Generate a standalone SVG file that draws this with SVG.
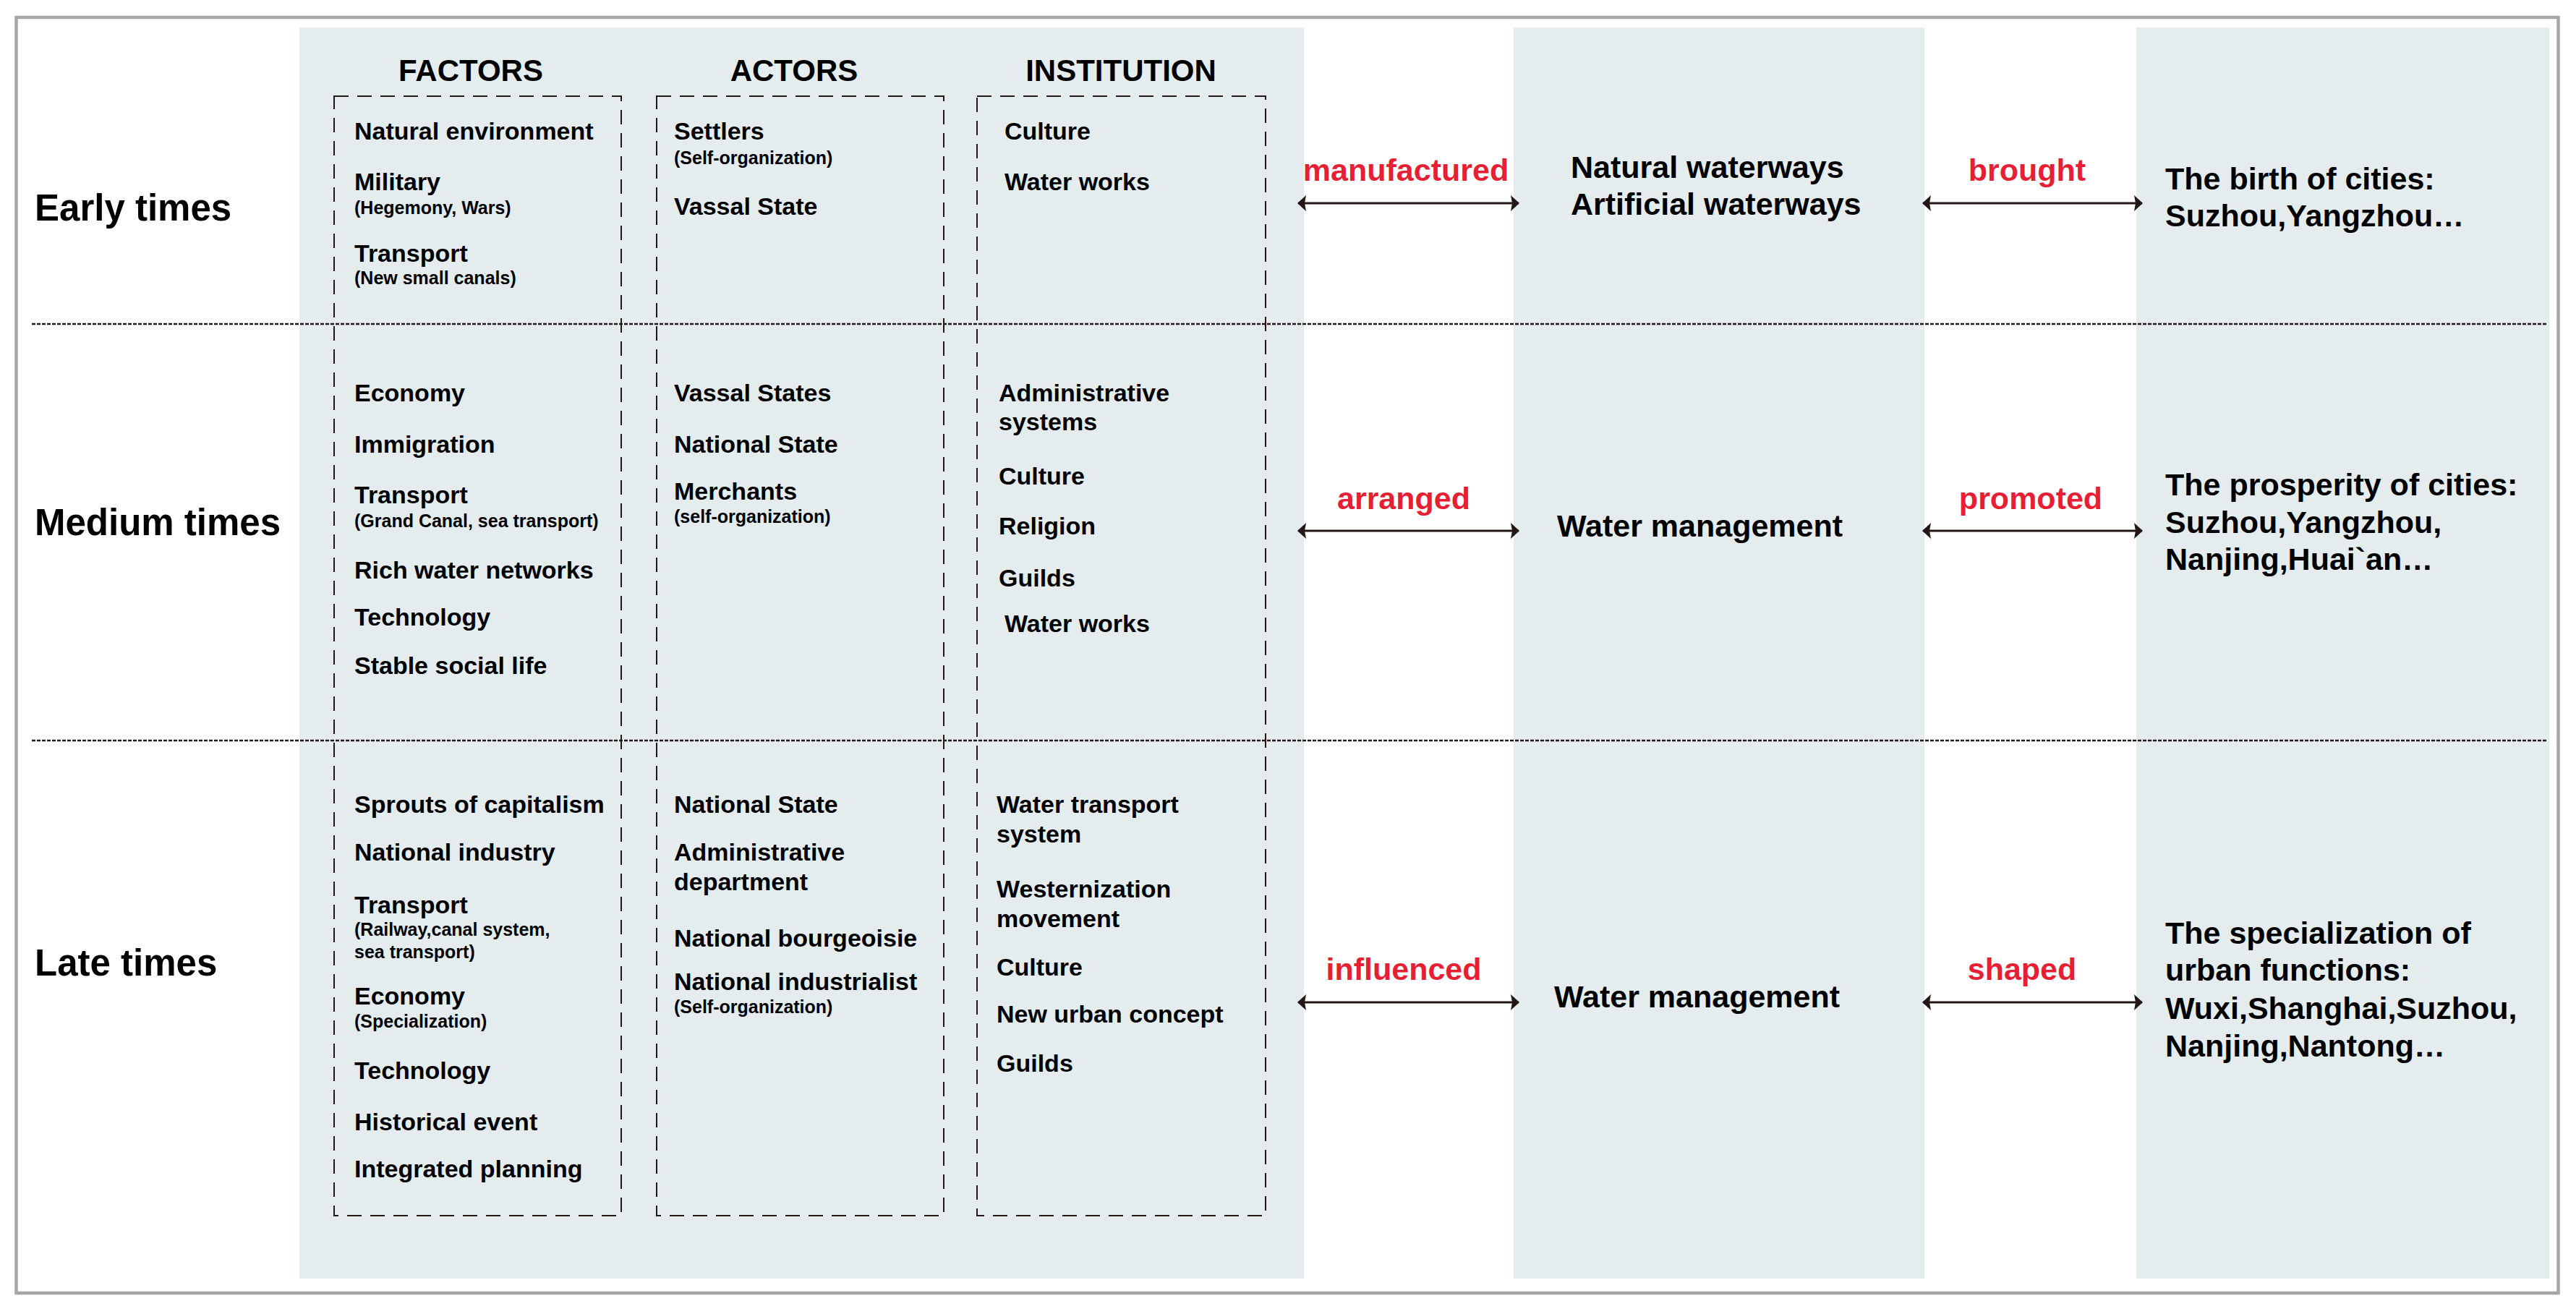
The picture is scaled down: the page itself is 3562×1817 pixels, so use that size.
<svg xmlns="http://www.w3.org/2000/svg" width="3562" height="1817" viewBox="0 0 3562 1817">
<style>
text{font-family:"Liberation Sans",Arial,sans-serif;font-weight:bold;fill:#000}
.era{font-size:51px}
.hd{font-size:42px;text-anchor:middle}
.it{font-size:34px}
.sm{font-size:25px}
.big{font-size:43px}
.rel{font-size:43px;fill:#e71f35;text-anchor:middle}
.panel{fill:#e5ecee}
.dbox{fill:none;stroke:#231815;stroke-width:2;stroke-dasharray:20 12}
.sep{stroke:#231815;stroke-width:2.5;stroke-dasharray:5 2}
.arr{stroke:#231815;stroke-width:3;fill:none;marker-start:url(#ah);marker-end:url(#ah)}
</style>
<defs>
<marker id="ah" viewBox="0 0 12 22" refX="11" refY="11" markerWidth="12" markerHeight="22" markerUnits="userSpaceOnUse" orient="auto-start-reverse">
<path d="M0,0 L12,11 L0,22 L2,11 Z" fill="#231815"/>
</marker>
</defs>
<rect width="3562" height="1817" fill="#fff"/>
<rect id="frame" x="22.5" y="24" width="3515" height="1764" fill="none" stroke="#a6a6a6" stroke-width="4.5"/>
<g id="panels">
<rect class="panel" x="414" y="38" width="1389" height="1730"/>
<rect class="panel" x="2093" y="38" width="568" height="1730"/>
<rect class="panel" x="2954" y="38" width="571" height="1730"/>
</g>
<g id="separators">
<line class="sep" x1="44" y1="448" x2="3522" y2="448"/>
<line class="sep" x1="44" y1="1024" x2="3522" y2="1024"/>
</g>
<g id="eras">
<text class="era" x="48" y="305">Early times</text>
<text class="era" x="48" y="740">Medium times</text>
<text class="era" x="48" y="1349">Late times</text>
</g>
<g id="factors">
<text class="hd" x="651" y="112">FACTORS</text>
<rect class="dbox" x="462" y="133" width="397" height="1548"/>
<text class="it" x="490" y="193">Natural environment</text>
<text class="it" x="490" y="263">Military</text>
<text class="sm" x="490" y="296">(Hegemony, Wars)</text>
<text class="it" x="490" y="362">Transport</text>
<text class="sm" x="490" y="393">(New small canals)</text>
<text class="it" x="490" y="555">Economy</text>
<text class="it" x="490" y="626">Immigration</text>
<text class="it" x="490" y="696">Transport</text>
<text class="sm" x="490" y="729">(Grand Canal, sea transport)</text>
<text class="it" x="490" y="800">Rich water networks</text>
<text class="it" x="490" y="865">Technology</text>
<text class="it" x="490" y="932">Stable social life</text>
<text class="it" x="490" y="1124">Sprouts of capitalism</text>
<text class="it" x="490" y="1190">National industry</text>
<text class="it" x="490" y="1263">Transport</text>
<text class="sm" x="490" y="1294">(Railway,canal system,</text>
<text class="sm" x="490" y="1325">sea transport)</text>
<text class="it" x="490" y="1389">Economy</text>
<text class="sm" x="490" y="1421">(Specialization)</text>
<text class="it" x="490" y="1492">Technology</text>
<text class="it" x="490" y="1563">Historical event</text>
<text class="it" x="490" y="1628">Integrated planning</text>
</g>
<g id="actors">
<text class="hd" x="1098" y="112">ACTORS</text>
<rect class="dbox" x="908" y="133" width="397" height="1548"/>
<text class="it" x="932" y="193">Settlers</text>
<text class="sm" x="932" y="227">(Self-organization)</text>
<text class="it" x="932" y="297">Vassal State</text>
<text class="it" x="932" y="555">Vassal States</text>
<text class="it" x="932" y="626">National State</text>
<text class="it" x="932" y="691">Merchants</text>
<text class="sm" x="932" y="723">(self-organization)</text>
<text class="it" x="932" y="1124">National State</text>
<text class="it" x="932" y="1190">Administrative</text>
<text class="it" x="932" y="1231">department</text>
<text class="it" x="932" y="1309">National bourgeoisie</text>
<text class="it" x="932" y="1369">National industrialist</text>
<text class="sm" x="932" y="1401">(Self-organization)</text>
</g>
<g id="institution">
<text class="hd" x="1550" y="112">INSTITUTION</text>
<rect class="dbox" x="1351" y="133" width="399" height="1548"/>
<text class="it" x="1389" y="193">Culture</text>
<text class="it" x="1389" y="263">Water works</text>
<text class="it" x="1381" y="555">Administrative</text>
<text class="it" x="1381" y="595">systems</text>
<text class="it" x="1381" y="670">Culture</text>
<text class="it" x="1381" y="739">Religion</text>
<text class="it" x="1381" y="811">Guilds</text>
<text class="it" x="1389" y="874">Water works</text>
<text class="it" x="1378" y="1124">Water transport</text>
<text class="it" x="1378" y="1165">system</text>
<text class="it" x="1378" y="1241">Westernization</text>
<text class="it" x="1378" y="1282">movement</text>
<text class="it" x="1378" y="1349">Culture</text>
<text class="it" x="1378" y="1414">New urban concept</text>
<text class="it" x="1378" y="1482">Guilds</text>
</g>
<g id="water">
<text class="big" x="2172" y="246">Natural waterways</text>
<text class="big" x="2172" y="297">Artificial waterways</text>
<text class="big" x="2153" y="742">Water management</text>
<text class="big" x="2149" y="1393">Water management</text>
</g>
<g id="cities">
<text class="big" x="2994" y="262">The birth of cities:</text>
<text class="big" x="2994" y="313">Suzhou,Yangzhou…</text>
<text class="big" x="2994" y="685">The prosperity of cities:</text>
<text class="big" x="2994" y="737">Suzhou,Yangzhou,</text>
<text class="big" x="2994" y="788">Nanjing,Huai`an…</text>
<text class="big" x="2994" y="1305">The specialization of</text>
<text class="big" x="2994" y="1356">urban functions:</text>
<text class="big" x="2994" y="1409">Wuxi,Shanghai,Suzhou,</text>
<text class="big" x="2994" y="1461">Nanjing,Nantong…</text>
</g>
<g id="connectors">
<line class="arr" x1="1795" y1="281" x2="2100" y2="281"/>
<line class="arr" x1="2659" y1="281" x2="2962" y2="281"/>
<line class="arr" x1="1795" y1="734" x2="2100" y2="734"/>
<line class="arr" x1="2659" y1="734" x2="2962" y2="734"/>
<line class="arr" x1="1795" y1="1386" x2="2100" y2="1386"/>
<line class="arr" x1="2659" y1="1386" x2="2962" y2="1386"/>
<text class="rel" x="1944" y="250">manufactured</text>
<text class="rel" x="2803" y="250">brought</text>
<text class="rel" x="1941" y="704">arranged</text>
<text class="rel" x="2808" y="704">promoted</text>
<text class="rel" x="1941" y="1355">influenced</text>
<text class="rel" x="2796" y="1355">shaped</text>
</g>
</svg>
